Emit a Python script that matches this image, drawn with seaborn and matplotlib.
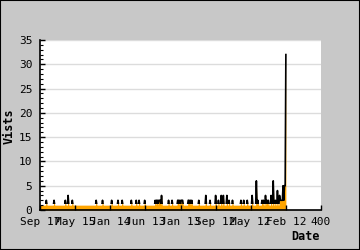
import matplotlib
matplotlib.use("Agg")
import matplotlib.pyplot as plt
from matplotlib.ticker import MultipleLocator, FixedLocator, FixedFormatter
from matplotlib.patches import Rectangle
import seaborn as sns
import pandas as pd

visits = [
    1,1,1,1,1,1,1,1,1,2,1,1,1,1,1,1,1,1,1,1,
    2,1,1,1,1,1,1,1,1,1,1,1,1,1,1,1,2,1,1,1,
    3,1,1,1,1,1,2,1,1,1,1,1,1,1,1,1,1,1,1,1,
    1,1,1,1,1,1,1,1,1,1,1,1,1,1,1,1,1,1,1,1,
    2,1,1,1,1,1,1,1,1,2,1,1,1,1,1,1,1,1,1,1,
    1,1,2,1,1,1,1,1,1,1,1,2,1,1,1,1,1,2,1,1,
    1,1,1,1,1,1,1,1,1,1,2,1,1,1,1,1,1,2,1,1,
    1,2,1,1,1,1,1,1,1,2,1,1,1,1,1,1,1,1,1,1,
    1,1,1,1,2,1,2,2,1,2,2,2,1,3,1,1,1,1,1,1,
    1,1,1,2,1,1,1,1,2,1,1,1,1,1,1,1,2,2,1,2,
    1,2,2,2,1,1,1,1,1,1,1,2,2,1,2,1,2,1,1,1,
    1,1,1,1,1,1,2,1,1,1,1,1,1,1,1,1,3,1,1,1,
    1,1,2,1,1,1,1,1,1,1,3,1,1,1,2,1,1,1,3,1,
    1,3,1,1,1,1,3,1,1,2,1,1,1,1,2,1,1,1,1,1,
    1,1,1,1,1,1,2,1,1,1,2,1,1,1,1,2,1,1,1,1,
    1,1,3,1,1,1,1,1,6,1,2,1,1,1,1,1,2,1,2,1,
    1,3,1,2,1,2,1,1,1,3,1,1,6,1,1,2,1,1,4,1,
    1,3,2,2,2,2,5,2,5,5,32,
]
days = list(range(len(visits)))

tick_pos = [0, 50, 100, 150, 200, 250, 300, 350, 400]
tick_labels = ["Sep 17", "May 15", "Jan 14", "Jun 13", "Jan 13",
               "Sep 12", "May 12", "Feb 12", "400"]
y_ticks = [0, 5, 10, 15, 20, 25, 30, 35]

df = pd.DataFrame({"Date": days, "Vists": visits})

plt.rcParams["font.family"] = ["DejaVu Sans Mono", "DejaVu Sans"]
plt.rcParams["font.size"] = 8

fig = plt.figure(figsize=(3.6, 2.5), dpi=100, facecolor="#C8C8C8")
ax = fig.add_axes([40/360, 1-210/250, 281/360, 170/250])
ax.set_facecolor("white")

for v in y_ticks[1:]:
    ax.axhline(v, color="#DCDCDC", lw=1, zorder=0)

ax.fill_between(df["Date"], df["Vists"], 0, color="#FFA500", lw=0, zorder=2)
sns.lineplot(data=df, x="Date", y="Vists", ax=ax, color="black", lw=1.2, zorder=3)
clip = Rectangle((0, 1.2), 400, 40, transform=ax.transData)
for ln in ax.get_lines():
    if ln.get_color() == "black":
        ln.set_clip_path(clip)

ax.set_xlim(0, 400)
ax.set_ylim(0, 35)
ax.xaxis.set_major_locator(FixedLocator(tick_pos))
ax.xaxis.set_major_formatter(FixedFormatter(tick_labels))
ax.yaxis.set_major_locator(FixedLocator(y_ticks))
ax.yaxis.set_minor_locator(MultipleLocator(1))
ax.tick_params(axis="x", direction="in", length=3.6, width=1, color="black", pad=5, labelsize=8)
ax.tick_params(axis="y", which="major", direction="in", length=3.6, width=1, color="black", pad=5.5, labelsize=8)
ax.tick_params(axis="y", which="minor", direction="in", length=2.0, width=0.8, color="black")
ax.set_axisbelow(False)

for s in ["top", "right"]:
    ax.spines[s].set_visible(False)
for s in ["left", "bottom"]:
    ax.spines[s].set_color("black")
    ax.spines[s].set_linewidth(1.2)
    ax.spines[s].set_zorder(6)

ax.set_xlabel("")
ax.set_ylabel("")
fig.text(9.5/360, 1-126/250, "Vists", rotation=90, ha="center", va="center",
         fontsize=8.5, fontweight="bold")
fig.text(320/360, 1-236/250, "Date", ha="right", va="center",
         fontsize=8.5, fontweight="bold")

fig.patches.append(Rectangle((0, 0), 1, 1, transform=fig.transFigure, fill=False,
                             ec="black", lw=1.5, zorder=10))

fig.savefig("out.png", dpi=100, facecolor=fig.get_facecolor())
